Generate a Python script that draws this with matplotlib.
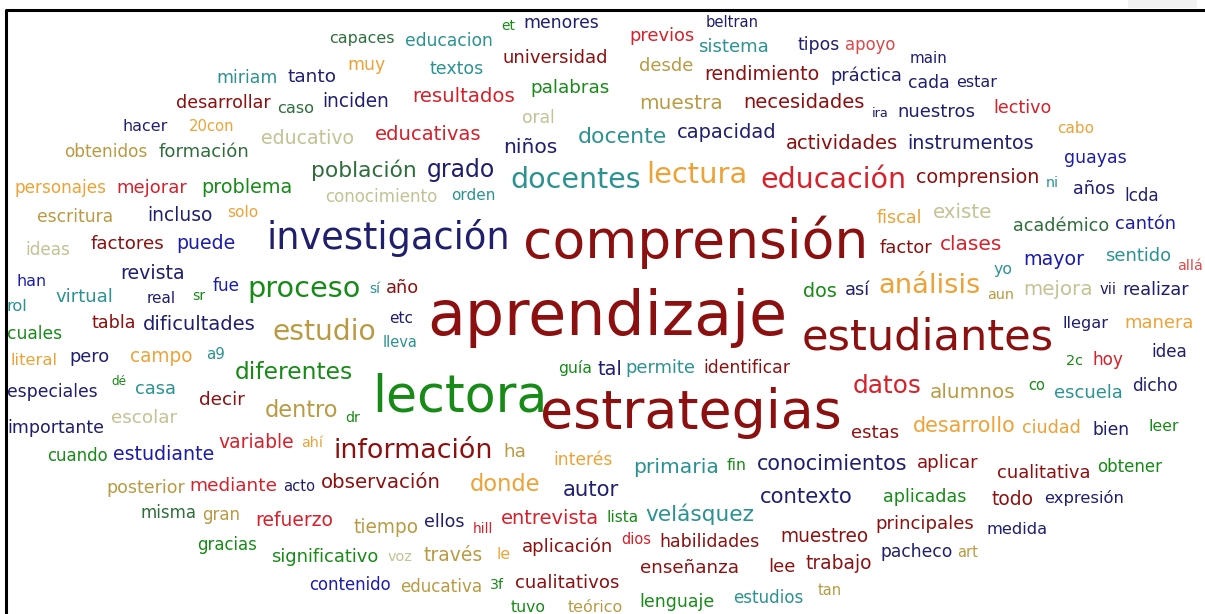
import matplotlib
matplotlib.use("Agg")
import matplotlib.pyplot as plt

# word cloud: words, layout (left x, right x, baseline y in pixels) and colour key
WORDS = [
    "comprensión", "aprendizaje", "estrategias", "lectora", "estudiantes", "investigación",
    "docentes", "lectura", "educación", "proceso", "estudio", "análisis", "información",
    "datos", "desarrollo", "grado", "población", "diferentes", "dentro", "donde",
    "primaria", "conocimientos", "contexto", "velásquez", "autor", "mayor", "alumnos",
    "clases", "factor", "fiscal", "existe", "académico", "cantón", "sentido", "allá",
    "yo", "aun", "mejora", "vii", "realizar", "llegar", "manera", "idea", "2c", "hoy",
    "co", "escuela", "dicho", "dos", "así", "permite", "identificar", "guía", "tal",
    "sí", "año", "etc", "lleva", "dr", "estas", "fin", "aplicadas", "principales",
    "dios", "habilidades", "muestreo", "pacheco", "art", "enseñanza", "lee", "trabajo",
    "tan", "lenguaje", "estudios", "ciudad", "bien", "leer", "aplicar", "cualitativa",
    "obtener", "todo", "expresión", "medida", "ha", "interés", "observación", "tiempo",
    "ellos", "hill", "entrevista", "lista", "voz", "través", "le", "aplicación",
    "contenido", "educativa", "3f", "cualitativos", "tuvo", "teórico", "importante",
    "escolar", "cuando", "estudiante", "variable", "ahí", "posterior", "mediante",
    "acto", "misma", "gran", "refuerzo", "gracias", "significativo", "decir",
    "escritura", "incluso", "solo", "ideas", "factores", "puede", "han", "revista",
    "fue", "virtual", "real", "sr", "rol", "tabla", "dificultades", "cuales", "literal",
    "pero", "campo", "a9", "especiales", "dé", "casa", "miriam", "tanto", "desarrollar",
    "caso", "hacer", "20con", "educativo", "obtenidos", "formación", "personajes",
    "mejorar", "problema", "et", "menores", "capaces", "educacion", "universidad", "muy",
    "textos", "palabras", "inciden", "resultados", "oral", "educativas", "niños",
    "docente", "conocimiento", "orden", "beltran", "previos", "sistema", "tipos",
    "apoyo", "desde", "rendimiento", "práctica", "muestra", "necesidades", "ira",
    "nuestros", "capacidad", "actividades", "main", "cada", "estar", "lectivo", "cabo",
    "instrumentos", "guayas", "comprension", "ni", "años", "lcda",
]

X_LEFT = [
    523, 427, 540, 372, 802, 267, 510, 646, 760, 247, 273, 878, 333, 853, 913, 427, 311,
    235, 265, 470, 633, 757, 760, 645, 563, 1023, 930, 940, 880, 877, 933, 1013, 1115,
    1105, 1177, 994, 987, 1023, 1100, 1122, 1063, 1124, 1151, 1066, 1092, 1028, 1054,
    1132, 803, 845, 625, 703, 558, 598, 369, 386, 389, 383, 345, 851, 727, 883, 875,
    621, 659, 780, 880, 957, 640, 768, 806, 818, 639, 733, 1022, 1093, 1148, 917, 997,
    1097, 991, 1044, 987, 503, 553, 321, 353, 424, 473, 501, 607, 388, 424, 496, 522,
    309, 400, 490, 515, 511, 568, 7, 111, 47, 113, 218, 301, 106, 189, 283, 141, 202,
    255, 197, 271, 199, 37, 147, 227, 25, 91, 176, 17, 120, 213, 55, 147, 192, 7, 91,
    143, 7, 11, 69, 130, 206, 7, 111, 135, 216, 287, 176, 277, 123, 189, 261, 64, 159,
    15, 116, 201, 501, 523, 329, 405, 503, 347, 429, 530, 322, 412, 522, 375, 503, 578,
    325, 451, 706, 629, 698, 797, 845, 639, 704, 830, 639, 743, 872, 897, 677, 786, 910,
    908, 956, 993, 1057, 907, 1064, 916, 1046, 1073, 1124,
]

X_RIGHT = [
    868, 790, 842, 548, 1055, 511, 640, 747, 906, 360, 377, 980, 493, 922, 1016, 496, 417,
    353, 339, 541, 719, 907, 853, 754, 620, 1084, 1015, 1002, 933, 923, 992, 1109, 1176,
    1171, 1203, 1013, 1014, 1093, 1117, 1189, 1109, 1193, 1187, 1083, 1123, 1045, 1122,
    1178, 837, 870, 695, 790, 592, 623, 380, 419, 413, 418, 360, 899, 747, 967, 974,
    651, 759, 868, 952, 978, 739, 795, 873, 842, 714, 803, 1081, 1130, 1178, 979, 1091,
    1162, 1033, 1124, 1048, 526, 612, 441, 418, 464, 493, 599, 639, 413, 483, 510, 613,
    391, 483, 504, 620, 546, 623, 104, 177, 108, 214, 294, 323, 184, 277, 315, 197, 240,
    333, 257, 379, 245, 113, 212, 258, 70, 165, 235, 47, 185, 240, 113, 176, 205, 28, 136,
    255, 62, 58, 109, 193, 225, 97, 126, 176, 277, 336, 270, 314, 168, 234, 354, 148, 250,
    107, 187, 293, 515, 598, 394, 493, 608, 385, 483, 610, 389, 515, 555, 482, 557, 667,
    438, 495, 759, 694, 769, 839, 896, 693, 819, 902, 722, 864, 889, 975, 777, 899, 948,
    950, 997, 1051, 1094, 1033, 1127, 1039, 1059, 1115, 1159,
]

BASELINE = [
    258, 335, 428, 412, 350, 249, 188, 183, 188, 297, 340, 293, 458, 393, 432, 177, 177,
    379, 417, 491, 473, 470, 503, 521, 496, 265, 398, 250, 253, 223, 218, 231, 229, 261,
    270, 274, 299, 295, 294, 295, 328, 328, 357, 365, 365, 390, 398, 391, 297, 295, 373,
    373, 373, 375, 293, 293, 323, 347, 422, 438, 470, 502, 529, 544, 547, 542, 557, 557,
    573, 572, 569, 595, 607, 603, 433, 435, 431, 468, 478, 472, 505, 503, 534, 457, 465,
    488, 533, 527, 533, 524, 522, 561, 561, 559, 552, 590, 592, 589, 588, 612, 612, 433,
    423, 461, 460, 448, 447, 493, 491, 491, 518, 520, 526, 550, 562, 405, 222, 221, 217,
    255, 249, 249, 286, 279, 291, 302, 303, 300, 311, 328, 330, 339, 365, 362, 362, 359,
    397, 385, 394, 83, 82, 108, 113, 131, 131, 144, 157, 157, 193, 193, 193, 30, 28, 43,
    46, 63, 70, 74, 93, 107, 102, 123, 140, 153, 143, 202, 200, 27, 41, 52, 50, 50, 71,
    80, 81, 109, 108, 117, 117, 138, 149, 63, 88, 87, 113, 133, 149, 163, 183, 187, 194,
    201,
]

# one key per word, ten per row, same order as WORDS
COLOR_KEY = [
    "D", "D", "D", "G", "D", "N", "T", "O", "R", "G",
    "Y", "O", "D", "R", "O", "N", "K", "G", "Y", "O",
    "T", "N", "N", "T", "N", "B", "Y", "R", "D", "O",
    "H", "K", "B", "T", "P", "T", "Y", "H", "N", "N",
    "N", "O", "N", "G", "R", "G", "T", "N", "G", "N",
    "T", "D", "G", "N", "T", "D", "N", "T", "G", "D",
    "G", "G", "D", "R", "D", "D", "N", "Y", "D", "D",
    "D", "Y", "G", "T", "O", "N", "G", "D", "D", "G",
    "D", "N", "N", "Y", "O", "D", "Y", "N", "R", "R",
    "G", "H", "Y", "O", "D", "B", "Y", "G", "D", "G",
    "Y", "N", "H", "G", "B", "R", "O", "Y", "R", "N",
    "K", "Y", "R", "G", "G", "D", "Y", "N", "O", "H",
    "D", "B", "B", "N", "B", "T", "N", "G", "T", "D",
    "N", "G", "O", "N", "O", "T", "N", "G", "T", "T",
    "N", "D", "K", "N", "O", "H", "Y", "K", "O", "R",
    "G", "G", "N", "K", "T", "D", "O", "T", "G", "N",
    "R", "H", "R", "N", "T", "H", "T", "N", "R", "T",
    "N", "P", "Y", "D", "N", "Y", "D", "N", "N", "N",
    "D", "N", "N", "N", "R", "O", "N", "B", "D", "T",
    "N", "N",
]

PALETTE = {
    "D": "#8c1010",  # dark red
    "R": "#d7202a",  # red
    "P": "#dc4848",  # light red
    "N": "#1f1f6e",  # navy
    "B": "#1c1cac",  # blue
    "T": "#2b9292",  # teal
    "G": "#178a17",  # green
    "K": "#2f6e3c",  # dark green
    "O": "#eea236",  # orange
    "Y": "#b99a42",  # dark gold
    "H": "#c3c294",  # khaki
}

fig = plt.figure(figsize=(12.05, 6.14), dpi=100)
ax = fig.add_axes([0, 0, 1, 1])
ax.set_xlim(0, 1205)
ax.set_ylim(614, 0)
ax.axis("off")

# frame of the screenshot
ax.plot([6, 6, 1205], [614, 10, 10], color="black", lw=2.2, solid_capstyle="butt")
ax.add_patch(plt.Rectangle((1128, 0), 69, 8, color="#f2f2f2", lw=0))

renderer = fig.canvas.get_renderer()
for word, x0, x1, yb, key in zip(WORDS, X_LEFT, X_RIGHT, BASELINE, COLOR_KEY):
    t = ax.text(x0, yb, word, fontsize=10, color=PALETTE[key],
                family="DejaVu Sans", ha="left", va="baseline")
    w = t.get_window_extent(renderer).width
    t.set_fontsize(10 * (x1 - x0) / w)

fig.savefig("out.png", dpi=100)
